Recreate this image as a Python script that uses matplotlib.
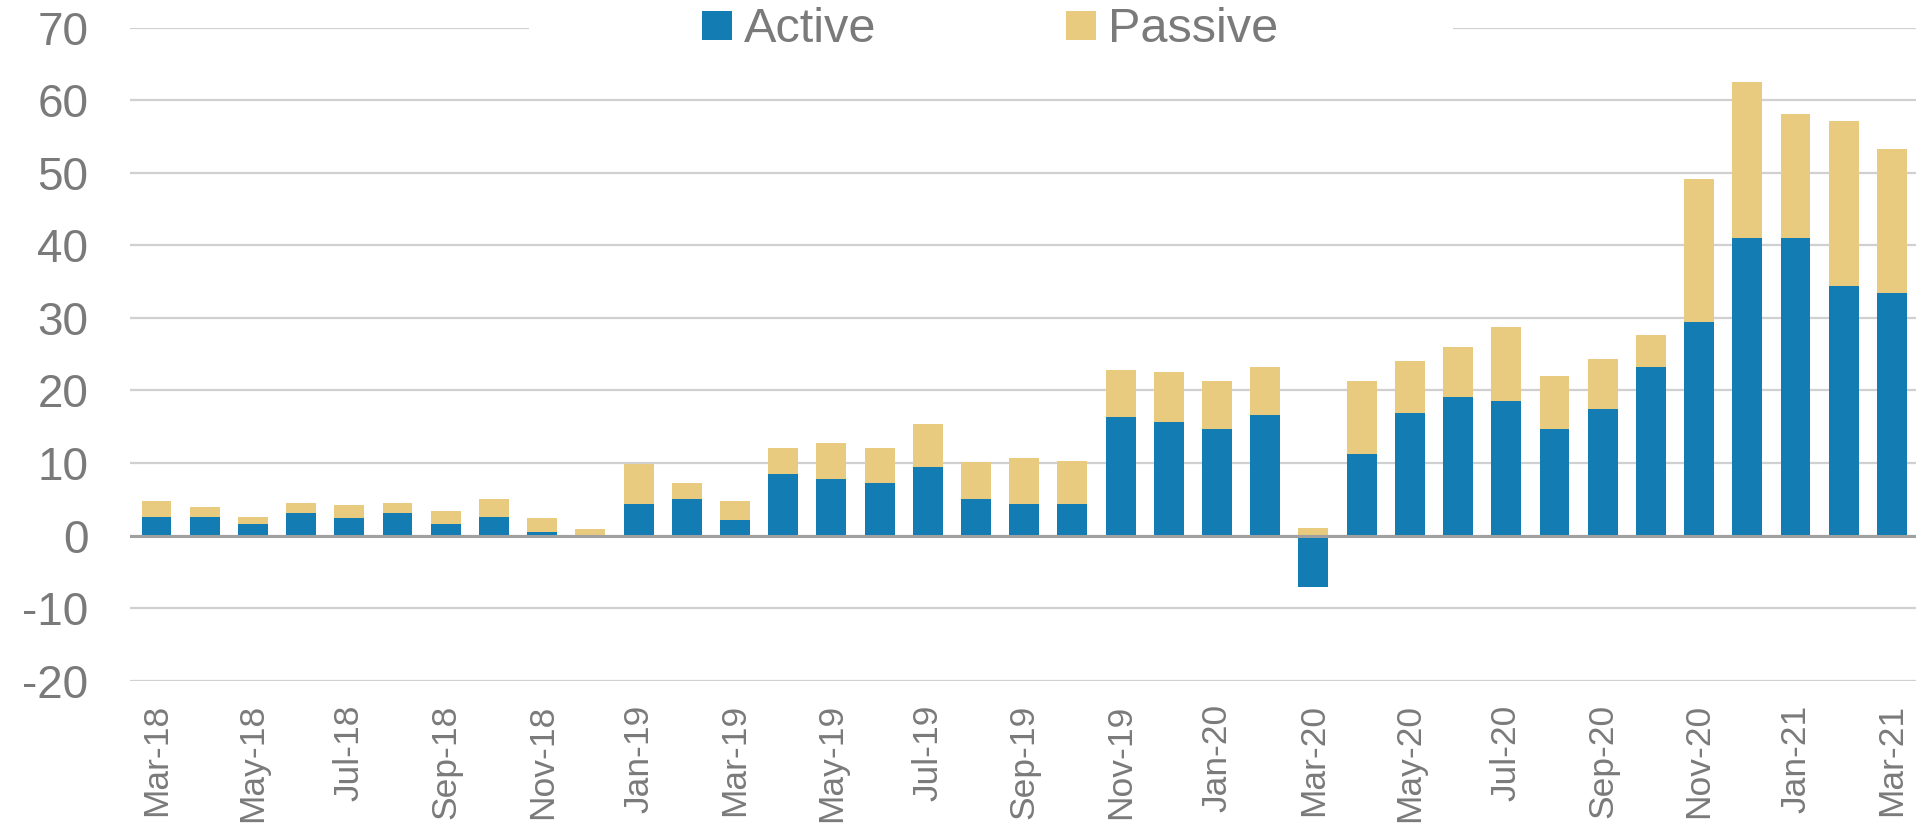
import numpy as np
import matplotlib

matplotlib.use("Agg")
import matplotlib.pyplot as plt
from matplotlib.patches import Rectangle

months = [
    "Mar-18", "Apr-18", "May-18", "Jun-18", "Jul-18", "Aug-18", "Sep-18", "Oct-18",
    "Nov-18", "Dec-18", "Jan-19", "Feb-19", "Mar-19", "Apr-19", "May-19", "Jun-19",
    "Jul-19", "Aug-19", "Sep-19", "Oct-19", "Nov-19", "Dec-19", "Jan-20", "Feb-20",
    "Mar-20", "Apr-20", "May-20", "Jun-20", "Jul-20", "Aug-20", "Sep-20", "Oct-20",
    "Nov-20", "Dec-20", "Jan-21", "Feb-21", "Mar-21",
]
active = [
    2.6, 2.6, 1.6, 3.05, 2.4, 3.05, 1.6, 2.5, 0.5, -0.3,
    4.3, 5.0, 2.1, 8.5, 7.8, 7.3, 9.5, 5.1, 4.3, 4.4,
    16.4, 15.6, 14.7, 16.6, -7.1, 11.2, 16.9, 19.1, 18.6, 14.7,
    17.4, 23.2, 29.4, 41.0, 41.0, 34.4, 33.4,
]
passive = [
    2.1, 1.4, 0.9, 1.45, 1.8, 1.45, 1.8, 2.5, 1.9, 0.9,
    5.5, 2.3, 2.6, 3.6, 5.0, 4.8, 5.9, 5.0, 6.4, 5.9,
    6.4, 6.9, 6.6, 6.7, 1.0, 10.05, 7.15, 6.9, 10.1, 7.3,
    6.9, 4.4, 19.8, 21.5, 17.1, 22.8, 19.9,
]
y_ticks = [-20, -10, 0, 10, 20, 30, 40, 50, 60, 70]

BLUE = "#137db3"
TAN = "#e9cb80"
GREY = "#7a7a7a"

plt.rcParams["font.family"] = ["Liberation Sans", "DejaVu Sans"]

fig = plt.figure(figsize=(19.21, 8.31), dpi=100)
ax = fig.add_axes([130 / 1921, 1 - 680.7 / 831, 1786 / 1921, (680.7 - 27.7) / 831])

x = np.arange(len(months))
act = np.array(active)
pas_bottom = np.clip(act, 0, None)  # passive stacks on the positive part of active
width = 0.62
ax.bar(x, act, width, color=BLUE, label="Active", zorder=2)
ax.bar(x, passive, width, bottom=pas_bottom, color=TAN, label="Passive", zorder=2)

ax.set_xlim(-0.55, len(months) - 0.5)
ax.set_ylim(-20, 70)
ax.set_yticks(y_ticks)
ax.set_yticklabels([str(v) for v in y_ticks])
ax.grid(axis="y", color="#d0d0d0", lw=1.6, zorder=0)
ax.set_axisbelow(True)
ax.axhline(0, color="#a0a0a0", lw=2.2, zorder=3)

ax.set_xticks(x[::2])
ax.set_xticklabels(months[::2], rotation=90)
for s in ax.spines.values():
    s.set_visible(False)
ax.tick_params(axis="y", length=0, pad=30, labelsize=33, labelcolor=GREY)
ax.tick_params(axis="x", length=0, pad=17, labelsize=25.5, labelcolor=GREY)

# white gap in the top gridline behind the legend
ax.add_patch(Rectangle((399 / 1786, 0.97), 924 / 1786, 0.06, transform=ax.transAxes,
                       facecolor="white", edgecolor="none", clip_on=False, zorder=1))

leg = fig.legend(loc="center", bbox_to_anchor=(990 / 1921, 1 - 30 / 831), ncol=2,
                 frameon=False, fontsize=35, handlelength=0.62, handleheight=0.55,
                 handletextpad=0.25, columnspacing=3.9)
for t in leg.get_texts():
    t.set_color(GREY)

fig.savefig("out.png", dpi=100)
